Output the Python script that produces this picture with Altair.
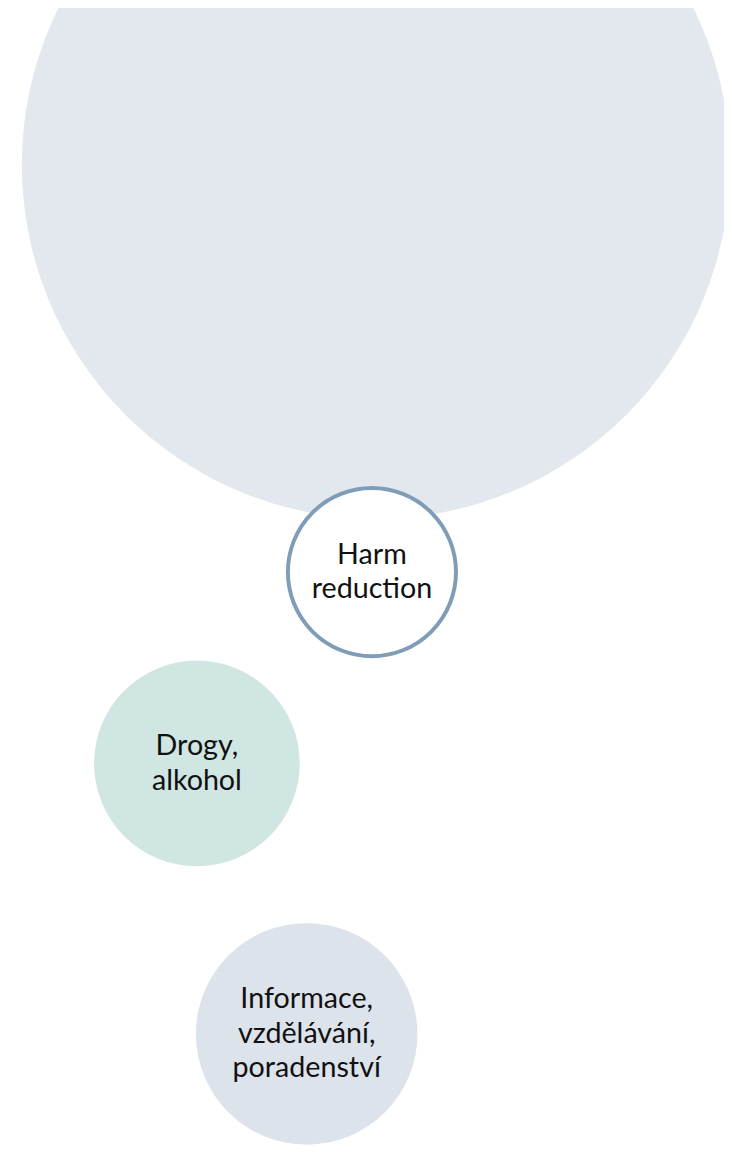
import altair as alt
import pandas as pd

# Bubble data (centre in page pixels, radius in pixels)
names = ["big", "Harm reduction", "Drogy, alkohol", "Informace, vzdělávání, poradenství"]
cx = [380, 376, 199, 310]
cy = [160, 572, 765.5, 1039]
radius = [358, 85, 104, 112]
fills = ["#e3e8ef", "#ffffff", "#cfe6e2", "#dde3eb"]
strokes = ["#e3e8ef", "#7f9db6", "#cfe6e2", "#dde3eb"]
stroke_w = [0, 4, 0, 0]
labels = ["", "Harm\nreduction", "Drogy,\nalkohol", "Informace,\nvzdělávání,\nporadenství"]

LINE_H = 35
nlines = [len(l.split("\n")) if l else 1 for l in labels]

df = pd.DataFrame({
    "name": names,
    "x": cx,
    "y": cy,
    "ty": [c - (n - 1) * LINE_H / 2 for c, n in zip(cy, nlines)],
    "size": [(2 * r) ** 2 for r in radius],
    "fill": fills,
    "stroke": strokes,
    "sw": stroke_w,
    "label": labels,
})

W, H = 724, 1144
xs = alt.Scale(domain=[8, 8 + W], range=[0, W], nice=False, zero=False)
ys = alt.Scale(domain=[8, 8 + H], range=[0, H], nice=False, zero=False)

circles = alt.Chart(df).mark_point(filled=True, opacity=1, shape="circle", clip=False).encode(
    x=alt.X("x:Q", scale=xs, axis=None),
    y=alt.Y("y:Q", scale=ys, axis=None),
    size=alt.Size("size:Q", scale=None, legend=None),
    fill=alt.Fill("fill:N", scale=None, legend=None),
    stroke=alt.Stroke("stroke:N", scale=None, legend=None),
    strokeWidth=alt.StrokeWidth("sw:Q", scale=None, legend=None),
)

text = alt.Chart(df).mark_text(
    font="Lato", fontSize=29, lineBreak="\n", lineHeight=LINE_H,
    align="center", baseline="middle", color="#111111",
).encode(
    x=alt.X("x:Q", scale=xs, axis=None),
    y=alt.Y("ty:Q", scale=ys, axis=None),
    text="label:N",
)

chart = (circles + text).properties(
    width=W, height=H, padding=0,
    autosize=alt.AutoSizeParams(type="none"),
).configure_view(strokeWidth=0)

chart.save("out.html", embed_options={"renderer": "svg", "actions": False})
